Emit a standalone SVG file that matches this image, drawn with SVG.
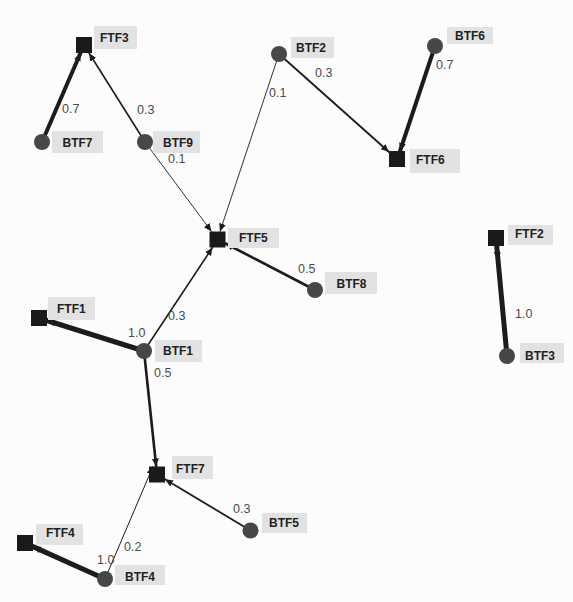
<svg xmlns="http://www.w3.org/2000/svg" width="573" height="602" viewBox="0 0 573 602">
  <style>
    .bg { fill: #fcfcfc; }
    .edge { stroke: #1c1c1c; fill: none; stroke-linecap: round; }
    .ftf { fill: #1a1a1a; }
    .btf { fill: #474747; }
    .tag { fill: #e2e2e2; }
    .name { font-family: "Liberation Sans", Arial, sans-serif; font-size: 12px; font-weight: bold; fill: #222; }
    .w { font-family: "Liberation Sans", Arial, sans-serif; font-size: 12.5px; fill: #4a4a4a; }
  </style>
  <defs>
    <marker id="arrow" viewBox="0 0 8 8" refX="8" refY="4" markerWidth="8" markerHeight="8" markerUnits="userSpaceOnUse" orient="auto">
      <path d="M0,0.5 L8,4 L0,7.5 Z" fill="#1c1c1c"/>
    </marker>
  </defs>
  <rect class="bg" x="0" y="0" width="573" height="602"/>

  <g id="connectors">
    <line class="edge" x1="42" y1="142" x2="80.5" y2="53" stroke-width="4" marker-end="url(#arrow)"/>
    <line class="edge" x1="145" y1="142" x2="89" y2="53" stroke-width="1.6" marker-end="url(#arrow)"/>
    <line class="edge" x1="145" y1="142" x2="211.5" y2="231.5" stroke-width="0.9" marker-end="url(#arrow)"/>
    <line class="edge" x1="279" y1="54" x2="220" y2="231.5" stroke-width="0.9" marker-end="url(#arrow)"/>
    <line class="edge" x1="279" y1="54" x2="389" y2="152" stroke-width="1.8" marker-end="url(#arrow)"/>
    <line class="edge" x1="435" y1="46" x2="400" y2="151" stroke-width="4" marker-end="url(#arrow)"/>
    <line class="edge" x1="315" y1="290" x2="225.5" y2="243.5" stroke-width="2.6" marker-end="url(#arrow)"/>
    <line class="edge" x1="144" y1="351" x2="212.5" y2="247.5" stroke-width="1.6" marker-end="url(#arrow)"/>
    <line class="edge" x1="144" y1="351" x2="47" y2="320.5" stroke-width="5" marker-end="url(#arrow)"/>
    <line class="edge" x1="144" y1="351" x2="156.2" y2="466.5" stroke-width="2.6" marker-end="url(#arrow)"/>
    <line class="edge" x1="250.5" y1="530.5" x2="165" y2="479.3" stroke-width="1.8" marker-end="url(#arrow)"/>
    <line class="edge" x1="105" y1="579" x2="153" y2="466.5" stroke-width="1" marker-end="url(#arrow)"/>
    <line class="edge" x1="105" y1="579" x2="33" y2="546.6" stroke-width="5" marker-end="url(#arrow)"/>
    <line class="edge" x1="507" y1="356" x2="496.7" y2="246" stroke-width="5" marker-end="url(#arrow)"/>
  </g>

  <g id="weights">
    <text class="w" x="62" y="113">0.7</text>
    <text class="w" x="137" y="114">0.3</text>
    <text class="w" x="168" y="163">0.1</text>
    <text class="w" x="315" y="77">0.3</text>
    <text class="w" x="269" y="97">0.1</text>
    <text class="w" x="436" y="68.5">0.7</text>
    <text class="w" x="298" y="273">0.5</text>
    <text class="w" x="128" y="337">1.0</text>
    <text class="w" x="168" y="320">0.3</text>
    <text class="w" x="154" y="377">0.5</text>
    <text class="w" x="233" y="513">0.3</text>
    <text class="w" x="97" y="564">1.0</text>
    <text class="w" x="124" y="551">0.2</text>
    <text class="w" x="515" y="318">1.0</text>
  </g>

  <g id="FTF3"><rect class="tag" x="94" y="26" width="43" height="23"/><rect class="ftf" x="76" y="37" width="16" height="16"/><text class="name" x="100" y="41.5">FTF3</text></g>
  <g id="BTF7"><rect class="tag" x="52" y="131" width="51" height="22"/><circle class="btf" cx="42" cy="142" r="8"/><text class="name" x="62.5" y="146.7">BTF7</text></g>
  <g id="BTF9"><rect class="tag" x="153" y="131" width="47" height="22"/><circle class="btf" cx="145" cy="142" r="8"/><text class="name" x="163" y="146.7">BTF9</text></g>
  <g id="BTF2"><rect class="tag" x="291" y="37" width="43" height="21"/><circle class="btf" cx="279" cy="54" r="8"/><text class="name" x="296" y="51.7">BTF2</text></g>
  <g id="BTF6"><rect class="tag" x="447" y="27" width="46" height="17"/><circle class="btf" cx="435" cy="46" r="8"/><text class="name" x="455" y="40">BTF6</text></g>
  <g id="FTF6"><rect class="tag" x="410" y="149" width="50" height="24"/><rect class="ftf" x="389" y="151" width="16" height="16"/><text class="name" x="416" y="164">FTF6</text></g>
  <g id="FTF5"><rect class="tag" x="228" y="228" width="51" height="20"/><rect class="ftf" x="209.5" y="231.5" width="16" height="16"/><text class="name" x="239" y="241.7">FTF5</text></g>
  <g id="BTF8"><rect class="tag" x="325" y="272" width="52" height="22"/><circle class="btf" cx="315" cy="290" r="8"/><text class="name" x="336.5" y="287.7">BTF8</text></g>
  <g id="FTF2"><rect class="tag" x="508" y="225" width="45" height="20"/><rect class="ftf" x="488" y="230" width="16" height="16"/><text class="name" x="515" y="238.3">FTF2</text></g>
  <g id="BTF3"><rect class="tag" x="520" y="343" width="44" height="20"/><circle class="btf" cx="507" cy="356" r="8"/><text class="name" x="525" y="360">BTF3</text></g>
  <g id="FTF1"><rect class="tag" x="48" y="297" width="47" height="23"/><rect class="ftf" x="31" y="310" width="16" height="16"/><text class="name" x="57" y="312.7">FTF1</text></g>
  <g id="BTF1"><rect class="tag" x="155" y="340" width="47" height="22"/><circle class="btf" cx="144" cy="351" r="8"/><text class="name" x="163" y="355">BTF1</text></g>
  <g id="FTF7"><rect class="tag" x="172" y="456" width="41" height="23"/><rect class="ftf" x="149" y="466.5" width="16" height="16"/><text class="name" x="176" y="473.3">FTF7</text></g>
  <g id="BTF5"><rect class="tag" x="262" y="513" width="45" height="20"/><circle class="btf" cx="250.5" cy="530.5" r="8"/><text class="name" x="269" y="526.7">BTF5</text></g>
  <g id="FTF4"><rect class="tag" x="36" y="524" width="47" height="21"/><rect class="ftf" x="17" y="535" width="16" height="16"/><text class="name" x="46" y="537">FTF4</text></g>
  <g id="BTF4"><rect class="tag" x="115" y="565" width="50" height="20"/><circle class="btf" cx="105" cy="579" r="8"/><text class="name" x="125" y="580.7">BTF4</text></g>
</svg>
